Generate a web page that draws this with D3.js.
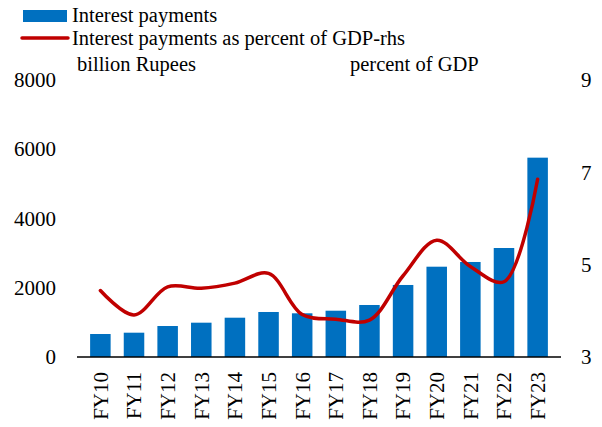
<!DOCTYPE html>
<html lang="en">
  <head>
    <meta charset="UTF-8" />
    <title>Interest payments</title>
    <script src="https://cdn.jsdelivr.net/npm/d3@7"></script>
    <style>
      body { margin: 0; background: #fff; }
      svg text { font-family: "Liberation Serif", "DejaVu Serif", serif; fill: #000; }
    </style>
  </head>
  <body>
    <div id="main-div"></div>
    <script>
      let years = ["FY10", "FY11", "FY12", "FY13", "FY14", "FY15", "FY16",
        "FY17", "FY18", "FY19", "FY20", "FY21", "FY22", "FY23"];
      let payments = [664, 702, 895, 991, 1135, 1300, 1262, 1337, 1502,
        2080, 2608, 2744, 3148, 5757];
      let percentGdp = [4.44, 3.91, 4.52, 4.49, 4.6, 4.81, 3.92, 3.82, 3.8,
        4.76, 5.53, 4.96, 4.63, 6.85];
      let leftTicks = [0, 2000, 4000, 6000, 8000];
      let rightTicks = [3, 5, 7, 9];

      let width = 602;
      let height = 427;
      let font = "Liberation Serif, DejaVu Serif, serif";

      let svg = d3
        .select("#main-div")
        .append("svg")
        .attr("width", width)
        .attr("height", height)
        .style("display", "block");

      let x = d3.scaleBand().domain(years).range([77, 561]).padding(0.39);
      let y = d3.scaleLinear().domain([0, 8000]).range([357, 80]);
      let y2 = d3.scaleLinear().domain([3, 9]).range([357, 80]);

      // bars
      svg
        .selectAll(".bar")
        .data(years)
        .enter()
        .append("rect")
        .attr("class", "bar")
        .attr("x", (d) => x(d))
        .attr("width", x.bandwidth())
        .attr("y", (d, i) => y(payments[i]))
        .attr("height", (d, i) => y(0) - y(payments[i]))
        .attr("fill", "#0070c0");

      // base line
      svg
        .append("line")
        .attr("x1", 77)
        .attr("x2", 561)
        .attr("y1", y(0))
        .attr("y2", y(0))
        .attr("stroke", "#000")
        .attr("stroke-width", 1.5);

      // percent of GDP line
      let line = d3
        .line()
        .x((d, i) => x(years[i]) + x.bandwidth() / 2)
        .y((d) => y2(d))
        .curve(d3.curveCatmullRom.alpha(0.5));

      svg
        .append("path")
        .datum(percentGdp)
        .attr("d", line)
        .attr("fill", "none")
        .attr("stroke", "#c00000")
        .attr("stroke-width", 3.5)
        .attr("stroke-linejoin", "round")
        .attr("stroke-linecap", "round");

      // left axis
      let leftAxis = svg
        .append("g")
        .attr("transform", "translate(56,0)")
        .call(
          d3.axisLeft(y).tickValues(leftTicks).tickFormat(d3.format("d"))
            .tickSize(0).tickPadding(0)
        );
      leftAxis.select(".domain").remove();
      leftAxis.attr("font-family", font).attr("font-size", 21);

      // right axis
      let rightAxis = svg
        .append("g")
        .attr("transform", "translate(581,0)")
        .call(
          d3.axisRight(y2).tickValues(rightTicks).tickFormat(d3.format("d"))
            .tickSize(0).tickPadding(0)
        );
      rightAxis.select(".domain").remove();
      rightAxis.attr("font-family", font).attr("font-size", 21);

      // x labels, rotated
      let xAxis = svg
        .append("g")
        .attr("transform", "translate(0," + y(0) + ")")
        .call(d3.axisBottom(x).tickSize(0).tickPadding(0));
      xAxis.select(".domain").remove();
      xAxis.attr("font-family", font).attr("font-size", 21);
      xAxis
        .selectAll("text")
        .attr("transform", "rotate(-90)")
        .attr("text-anchor", "end")
        .attr("x", -15)
        .attr("y", 0)
        .attr("dy", "0.35em");

      // axis titles
      svg
        .append("text")
        .attr("x", 77)
        .attr("y", 71)
        .attr("font-family", font)
        .attr("font-size", 20.5)
        .text("billion Rupees");
      svg
        .append("text")
        .attr("x", 350)
        .attr("y", 71)
        .attr("font-family", font)
        .attr("font-size", 20.5)
        .text("percent of GDP");

      // legend
      svg
        .append("rect")
        .attr("x", 23)
        .attr("y", 10)
        .attr("width", 44)
        .attr("height", 12)
        .attr("fill", "#0070c0");
      svg
        .append("text")
        .attr("x", 72)
        .attr("y", 22)
        .attr("font-family", font)
        .attr("font-size", 20.5)
        .text("Interest payments");
      svg
        .append("line")
        .attr("x1", 22)
        .attr("x2", 68)
        .attr("y1", 38)
        .attr("y2", 38)
        .attr("stroke", "#c00000")
        .attr("stroke-width", 3.5)
        .attr("stroke-linecap", "round");
      svg
        .append("text")
        .attr("x", 72)
        .attr("y", 45)
        .attr("font-family", font)
        .attr("font-size", 20.5)
        .text("Interest payments as percent of GDP-rhs");
    </script>
  </body>
</html>
